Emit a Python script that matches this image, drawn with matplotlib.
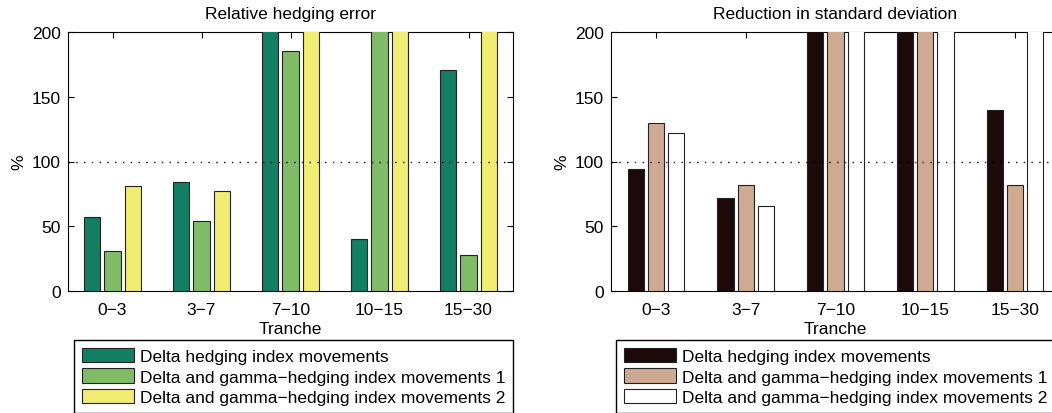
import matplotlib
matplotlib.use("Agg")
import matplotlib.pyplot as plt
import numpy as np

# tranche groups and the three hedging strategies
tranches = ["0\u22123", "3\u22127", "7\u221210", "10\u221215", "15\u221230"]
labels = ["Delta hedging index movements",
          "Delta and gamma\u2212hedging index movements 1",
          "Delta and gamma\u2212hedging index movements 2"]

# relative hedging error (%) - bars above 200 run off the top of the axes
err_delta = [57, 84, 240, 40, 171]
err_gamma1 = [31, 54, 185, 260, 28]
err_gamma2 = [81, 77, 250, 230, 270]

# reduction in standard deviation (%)
std_delta = [94, 72, 250, 240, 140]
std_gamma1 = [130, 82, 230, 260, 82]
std_gamma2 = [122, 66, 270, 250, 230]

left_colors = ["#127f63", "#80bc68", "#f1ed72"]
right_colors = ["#1c0a0b", "#cdaa91", "#ffffff"]

plt.rcParams['font.family'] = ['Liberation Sans', 'DejaVu Sans']
plt.rcParams['font.size'] = 12.5

fig = plt.figure(figsize=(10.52, 4.14), dpi=100)
W, H = 1052.0, 414.0


def panel(rect, series, colors, title, legbox):
    ax = fig.add_axes(rect)
    x = np.arange(1, len(tranches) + 1)
    for i, (vals, c) in enumerate(zip(series, colors)):
        ax.bar(x + (i - 1) * 0.225, vals, width=0.18, color=c,
               edgecolor="#222222", linewidth=0.8, zorder=3, label=labels[i])
    # reference line at 100 %
    ax.axhline(100, color="black", linewidth=1.0, linestyle=(0, (1, 4.6)), zorder=4)
    ax.set_xlim(0.5, 5.5)
    ax.set_ylim(0, 200)
    ax.set_xticks(x)
    ax.set_xticklabels(tranches)
    ax.set_yticks([0, 50, 100, 150, 200])
    ax.tick_params(direction="in", top=True, right=True, length=4.5, width=0.8)
    ax.tick_params(axis="x", pad=8)
    ax.tick_params(axis="y", pad=5)
    for s in ax.spines.values():
        s.set_linewidth(0.8)
    ax.set_title(title, fontsize=12.5, pad=10)
    ax.set_xlabel("Tranche", labelpad=3)
    ax.set_ylabel("%", labelpad=4)
    leg = ax.legend(loc="upper left", bbox_to_anchor=legbox, bbox_transform=fig.transFigure,
                    fancybox=False, framealpha=1, edgecolor="black", borderpad=0.45,
                    handlelength=3.0, handleheight=0.9, handletextpad=0.35,
                    labelspacing=0.25, borderaxespad=0)
    leg.get_frame().set_linewidth(1.0)
    return ax


panel([68 / W, 1 - 292 / H, 445 / W, 259 / H], [err_delta, err_gamma1, err_gamma2],
      left_colors, "Relative hedging error", (74 / W, 1 - 341 / H))
panel([611 / W, 1 - 292 / H, 449 / W, 259 / H], [std_delta, std_gamma1, std_gamma2],
      right_colors, "Reduction in standard deviation", (616 / W, 1 - 341 / H))

fig.savefig("out.png", dpi=100)
